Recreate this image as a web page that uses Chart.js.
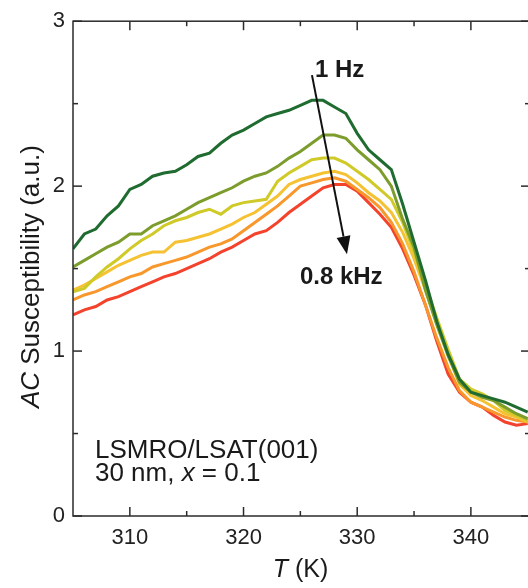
<!DOCTYPE html>
<html>
<head>
<meta charset="utf-8">
<script src="https://cdn.jsdelivr.net/npm/chart.js@4/dist/chart.umd.min.js"></script>
<style>
  html, body { margin: 0; padding: 0; background: #fff; overflow: hidden; }
  #wrap { width: 540px; height: 588px; }
</style>
</head>
<body>
<div id="wrap"><canvas id="chi" width="540" height="588"></canvas></div>
<script>
// AC susceptibility vs temperature, 1 Hz ... 0.8 kHz

const temps = [305, 306, 307, 308, 309, 310, 311, 312, 313, 314,
               315, 316, 317, 318, 319, 320, 321, 322, 323, 324,
               325, 326, 327, 328, 329, 330, 331, 332, 333, 334,
               335, 336, 337, 338, 339, 340, 341, 342, 343, 344, 345];

const seriesNames = ['1 Hz', 'f2', 'f3', 'f4', 'f5', '0.8 kHz'];
const seriesColors = ['#1f6b30', '#7c9c2c', '#cfca28', '#f4c232', '#f8982c', '#f4432c'];

const chi1 = [1.62, 1.71, 1.74, 1.82, 1.88, 1.98, 2.01, 2.06, 2.08, 2.09,
              2.13, 2.18, 2.20, 2.26, 2.31, 2.34, 2.38, 2.42, 2.44, 2.46,
              2.49, 2.52, 2.52, 2.48, 2.44, 2.32, 2.22, 2.16, 2.10, 1.89,
              1.66, 1.43, 1.18, 0.98, 0.83, 0.75, 0.73, 0.71, 0.69, 0.66, 0.63];
const chi2 = [1.51, 1.55, 1.59, 1.63, 1.66, 1.71, 1.71, 1.76, 1.79, 1.82,
              1.86, 1.90, 1.93, 1.96, 1.99, 2.03, 2.06, 2.08, 2.12, 2.17,
              2.21, 2.26, 2.31, 2.31, 2.29, 2.22, 2.16, 2.10, 2.00, 1.80,
              1.63, 1.37, 1.16, 0.97, 0.81, 0.75, 0.72, 0.70, 0.66, 0.62, 0.59];
const chi3 = [1.36, 1.38, 1.45, 1.51, 1.56, 1.62, 1.67, 1.71, 1.76, 1.79,
              1.81, 1.84, 1.86, 1.83, 1.88, 1.90, 1.91, 1.92, 2.03, 2.08,
              2.12, 2.16, 2.17, 2.17, 2.14, 2.09, 2.04, 1.98, 1.92, 1.78,
              1.60, 1.40, 1.20, 1.01, 0.83, 0.77, 0.74, 0.70, 0.64, 0.61, 0.58];
const chi4 = [1.37, 1.40, 1.44, 1.48, 1.52, 1.55, 1.58, 1.60, 1.60, 1.66,
              1.67, 1.69, 1.71, 1.74, 1.77, 1.81, 1.84, 1.89, 1.94, 2.01,
              2.04, 2.06, 2.08, 2.09, 2.07, 2.02, 1.96, 1.91, 1.84, 1.72,
              1.56, 1.37, 1.17, 0.98, 0.80, 0.73, 0.70, 0.66, 0.62, 0.60, 0.57];
const chi5 = [1.31, 1.34, 1.36, 1.39, 1.42, 1.45, 1.47, 1.51, 1.53, 1.55,
              1.57, 1.60, 1.63, 1.65, 1.68, 1.73, 1.78, 1.83, 1.88, 1.94,
              2.00, 2.02, 2.04, 2.05, 2.03, 1.98, 1.93, 1.87, 1.78, 1.65,
              1.48, 1.28, 1.08, 0.90, 0.76, 0.69, 0.66, 0.63, 0.60, 0.58, 0.57];
const chi6 = [1.22, 1.25, 1.27, 1.31, 1.33, 1.36, 1.39, 1.42, 1.45, 1.47,
              1.50, 1.53, 1.56, 1.60, 1.63, 1.67, 1.71, 1.73, 1.78, 1.84,
              1.89, 1.94, 1.99, 2.01, 2.01, 1.97, 1.90, 1.83, 1.75, 1.62,
              1.46, 1.28, 1.06, 0.86, 0.75, 0.69, 0.66, 0.61, 0.57, 0.55, 0.56];
const allSeries = [chi1, chi2, chi3, chi4, chi5, chi6];

const xMajor = [310, 320, 330, 340];
const xMinor = [315, 325, 335];
const yMajor = [0, 1, 2, 3];
const yMinor = [0.5, 1.5, 2.5];

// annotation anchors in data units (T, chi)
const arrowFrom = [326.02, 2.673];
const arrowTo = [329.10, 1.587];
const labelTop = { text: '1 Hz', at: [326.28, 2.661] };
const labelBottom = { text: '0.8 kHz', at: [324.96, 1.406] };
const sampleAt = [306.93, 0.350, 0.215];

const FONT = '"Liberation Sans", Arial, sans-serif';
Chart.defaults.font.family = FONT;

const datasets = allSeries.map((vals, i) => ({
  label: seriesNames[i],
  data: temps.map((t, k) => ({ x: t, y: vals[k] })),
  borderColor: seriesColors[i],
  borderWidth: 3,
  pointRadius: 0,
  tension: 0,
  fill: false
}));

// frame, inward ticks, titles and notes
const decorations = {
  id: 'decorations',
  afterDraw(chart) {
    const { ctx, chartArea: a, scales: { x, y } } = chart;
    ctx.save();
    ctx.strokeStyle = '#2b2b2b';
    ctx.lineWidth = 1.5;
    ctx.strokeRect(a.left, a.top, a.right - a.left, a.bottom - a.top);

    function seg(x1, y1, x2, y2) {
      ctx.beginPath(); ctx.moveTo(x1, y1); ctx.lineTo(x2, y2); ctx.stroke();
    }
    xMajor.forEach(v => { const p = x.getPixelForValue(v); seg(p, a.bottom, p, a.bottom - 9); seg(p, a.top, p, a.top + 9); });
    xMinor.forEach(v => { const p = x.getPixelForValue(v); seg(p, a.bottom, p, a.bottom - 5); seg(p, a.top, p, a.top + 5); });
    yMajor.forEach(v => { const p = y.getPixelForValue(v); seg(a.left, p, a.left + 9, p); seg(a.right, p, a.right - 9, p); });
    yMinor.forEach(v => { const p = y.getPixelForValue(v); seg(a.left, p, a.left + 5, p); seg(a.right, p, a.right - 5, p); });

    ctx.fillStyle = '#1a1a1a';
    ctx.textBaseline = 'alphabetic';
    ctx.textAlign = 'left';

    // x title: T (K)
    const cx = (a.left + a.right) / 2 - 1;
    ctx.font = 'italic 25px ' + FONT;
    const wT = ctx.measureText('T').width;
    ctx.font = '25px ' + FONT;
    const wK = ctx.measureText(' (K)').width;
    let sx = cx - (wT + wK) / 2;
    ctx.font = 'italic 25px ' + FONT;
    ctx.fillText('T', sx, 577);
    ctx.font = '25px ' + FONT;
    ctx.fillText(' (K)', sx + wT, 577);

    // y title: AC Susceptibility (a.u.)
    ctx.save();
    ctx.translate(39, (a.top + a.bottom) / 2 + 8);
    ctx.rotate(-Math.PI / 2);
    ctx.font = 'italic 26px ' + FONT;
    const wAC = ctx.measureText('AC').width;
    ctx.font = '26px ' + FONT;
    const wRest = ctx.measureText(' Susceptibility (a.u.)').width;
    sx = -(wAC + wRest) / 2;
    ctx.font = 'italic 26px ' + FONT;
    ctx.fillText('AC', sx, 0);
    ctx.font = '26px ' + FONT;
    ctx.fillText(' Susceptibility (a.u.)', sx + wAC, 0);
    ctx.restore();

    // sample note
    const nx = x.getPixelForValue(sampleAt[0]);
    ctx.font = '26px ' + FONT;
    ctx.fillText('LSMRO/LSAT(001)', nx, y.getPixelForValue(sampleAt[1]));
    const ny = y.getPixelForValue(sampleAt[2]);
    const p1 = '30 nm, ';
    ctx.fillText(p1, nx, ny);
    const w1 = ctx.measureText(p1).width;
    ctx.font = 'italic 26px ' + FONT;
    ctx.fillText('x', nx + w1, ny);
    const w2 = ctx.measureText('x').width;
    ctx.font = '26px ' + FONT;
    ctx.fillText(' = 0.1', nx + w1 + w2, ny);

    // frequency labels
    ctx.font = 'bold 24px ' + FONT;
    ctx.fillText(labelTop.text, x.getPixelForValue(labelTop.at[0]), y.getPixelForValue(labelTop.at[1]));
    ctx.fillText(labelBottom.text, x.getPixelForValue(labelBottom.at[0]), y.getPixelForValue(labelBottom.at[1]));

    // arrow
    const ax1 = x.getPixelForValue(arrowFrom[0]), ay1 = y.getPixelForValue(arrowFrom[1]);
    const ax2 = x.getPixelForValue(arrowTo[0]), ay2 = y.getPixelForValue(arrowTo[1]);
    const ang = Math.atan2(ay2 - ay1, ax2 - ax1);
    const headLen = 18, headHalf = 7;
    const bx = ax2 - headLen * Math.cos(ang), by = ay2 - headLen * Math.sin(ang);
    ctx.strokeStyle = '#111';
    ctx.lineWidth = 2;
    seg(ax1, ay1, bx, by);
    ctx.fillStyle = '#111';
    ctx.beginPath();
    ctx.moveTo(ax2, ay2);
    ctx.lineTo(bx + headHalf * Math.sin(ang), by - headHalf * Math.cos(ang));
    ctx.lineTo(bx - headHalf * Math.sin(ang), by + headHalf * Math.cos(ang));
    ctx.closePath();
    ctx.fill();

    ctx.restore();
  }
};

new Chart(document.getElementById('chi'), {
  type: 'line',
  data: { datasets },
  plugins: [decorations],
  options: {
    responsive: false,
    animation: false,
    devicePixelRatio: 1,
    layout: { padding: { top: 19, right: 10, left: 0, bottom: 0 } },
    plugins: { legend: { display: false }, tooltip: { enabled: false } },
    scales: {
      x: {
        type: 'linear',
        min: 305,
        max: 345.2,
        grid: { display: false, drawTicks: false },
        border: { display: false },
        afterBuildTicks: s => { s.ticks = xMajor.map(v => ({ value: v })); },
        afterFit: s => { s.height = 72; },
        ticks: { padding: 9, color: '#222', font: { size: 22 }, maxRotation: 0 }
      },
      y: {
        min: 0,
        max: 3,
        grid: { display: false, drawTicks: false },
        border: { display: false },
        afterBuildTicks: s => { s.ticks = yMajor.map(v => ({ value: v })); },
        afterFit: s => { s.width = 73; },
        ticks: { padding: 8, color: '#222', font: { size: 22 } }
      }
    }
  }
});
</script>
</body>
</html>
